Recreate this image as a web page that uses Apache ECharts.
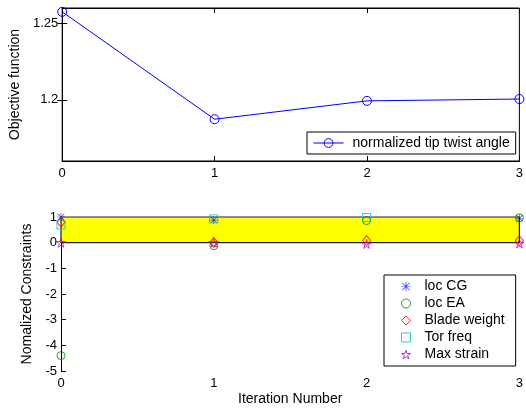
<!DOCTYPE html>
<html>
<head>
<meta charset="utf-8">
<script src="https://cdn.jsdelivr.net/npm/echarts@6/dist/echarts.min.js"></script>
<style>
  html, body { margin: 0; padding: 0; background: #fff; }
  #chart { width: 526px; height: 410px; }
</style>
</head>
<body>
<div id="chart"></div>
<script>
// Optimisation history: objective and normalized constraints per iteration
const iterations = [0, 1, 2, 3];
const objective = [1.2575, 1.1873, 1.1993, 1.2005];
const objTicks = [1.2, 1.25];

const locCG = [1.0, 0.88, null, 0.95];
const locEA = [-4.4, -0.12, 0.86, 0.97];
const bladeWeight = [0.8, 0.01, 0.08, 0.08];
const torFreq = [0.69, 0.93, 0.98, null];
const maxStrain = [0.0, 0.0, -0.05, -0.03];

// feasible band for the normalized constraints
const bandLower = 0;
const bandUpper = 1;

const FONT = '"Liberation Sans", Arial, sans-serif';

const pairs = (ys) => iterations.map((x, i) => [x, ys[i]]);

const ASTERISK = 'path://M9.2 0h1.6v20h-1.6z M0 9.2h20v1.6h-20z M2.36 1.3L18.7 17.64L17.64 18.7L1.3 2.36z M17.64 1.3L18.7 2.36L2.36 18.7L1.3 17.64z';
const PENTAGRAM = 'path://M10 0L12.245 6.91L19.51 6.91L13.633 11.18L15.88 18.09L10 13.82L4.12 18.09L6.367 11.18L0.49 6.91L7.755 6.91Z';

function hollow(color) {
  return { color: 'transparent', borderColor: color, borderWidth: 1 };
}

// constraint series: name, marker, size, style
const constraintSeries = [
  { name: 'loc CG', values: locCG, symbol: ASTERISK, size: 8, style: { color: '#0000ff', borderWidth: 0 } },
  { name: 'loc EA', values: locEA, symbol: 'circle', size: 8, style: hollow('#008000') },
  { name: 'Blade weight', values: bladeWeight, symbol: 'diamond', size: [8, 10], style: hollow('#ff0000') },
  { name: 'Tor freq', values: torFreq, symbol: 'rect', size: 8, style: hollow('#00bfbf') },
  { name: 'Max strain', values: maxStrain, symbol: PENTAGRAM, size: 9, style: hollow('#bf00bf') }
];

const tickStyle = { inside: true, length: 5, lineStyle: { color: '#000', width: 1 } };
const lineStyle = { lineStyle: { color: '#000', width: 1 } };
const labelStyle = { color: '#000', fontSize: 13, fontFamily: FONT };

const chart = echarts.init(document.getElementById('chart'), null, { renderer: 'canvas' });

chart.setOption({
  animation: false,
  backgroundColor: '#fff',
  grid: [
    { left: 61, top: 8, width: 461, height: 153, show: true, borderColor: '#000', borderWidth: 1, backgroundColor: 'transparent' },
    { left: 61, top: 217, width: 461, height: 154 }
  ],
  xAxis: [
    { gridIndex: 0, type: 'value', min: 0, max: 3, interval: 1, position: 'bottom',
      axisLine: lineStyle, axisTick: tickStyle, splitLine: { show: false },
      axisLabel: Object.assign({ margin: 6 }, labelStyle) },
    { gridIndex: 0, type: 'value', min: 0, max: 3, interval: 1, position: 'top',
      axisLine: lineStyle, axisTick: tickStyle, splitLine: { show: false },
      axisLabel: { show: false } },
    { gridIndex: 1, type: 'value', min: 0, max: 3, interval: 1, position: 'bottom',
      axisLine: lineStyle, axisTick: tickStyle, splitLine: { show: false },
      axisLabel: Object.assign({ margin: 6 }, labelStyle),
      name: 'Iteration Number', nameLocation: 'middle', nameGap: 21,
      nameTextStyle: { color: '#000', fontSize: 14, fontFamily: FONT } }
  ],
  yAxis: [
    { gridIndex: 0, type: 'value', min: 1.16, max: 1.26, position: 'left',
      axisLine: lineStyle, splitLine: { show: false },
      axisTick: Object.assign({ customValues: objTicks }, tickStyle),
      axisLabel: Object.assign({ customValues: objTicks, margin: 4 }, labelStyle),
      name: 'Objective function', nameLocation: 'middle', nameGap: 39,
      nameTextStyle: { color: '#000', fontSize: 14, fontFamily: FONT } },
    { gridIndex: 0, type: 'value', min: 1.16, max: 1.26, position: 'right',
      axisLine: lineStyle, splitLine: { show: false },
      axisTick: Object.assign({ customValues: objTicks }, tickStyle),
      axisLabel: { show: false } },
    { gridIndex: 1, type: 'value', min: -5, max: 1, interval: 1, position: 'left',
      axisLine: lineStyle, axisTick: tickStyle, splitLine: { show: false },
      axisLabel: Object.assign({ margin: 4 }, labelStyle),
      name: 'Nomalized Constraints', nameLocation: 'middle', nameGap: 27,
      nameTextStyle: { color: '#000', fontSize: 14, fontFamily: FONT } }
  ],
  legend: [
    { data: ['normalized tip twist angle'], left: 307, top: 132, orient: 'horizontal',
      backgroundColor: '#fff', borderColor: '#000', borderWidth: 1,
      padding: [4, 6, 4, 6], itemWidth: 30, itemHeight: 11, itemGap: 0,
      lineStyle: { color: '#0000ff', width: 1 },
      itemStyle: { color: 'transparent', borderColor: '#0000ff', borderWidth: 1 },
      textStyle: { color: '#000', fontSize: 14, fontFamily: FONT, padding: [0, 0, 0, 4] } },
    { data: constraintSeries.map(s => ({ name: s.name, itemStyle: Object.assign({}, s.style) })),
      left: 384, top: 275, orient: 'vertical',
      backgroundColor: '#fff', borderColor: '#000', borderWidth: 1,
      padding: [3, 11, 3, 17], itemWidth: 9, itemHeight: 9, itemGap: 0,
      textStyle: { color: '#000', fontSize: 14, fontFamily: FONT, lineHeight: 17, padding: [0, 0, 0, 9] } }
  ],
  series: [
    { name: 'normalized tip twist angle', type: 'line', xAxisIndex: 0, yAxisIndex: 0,
      data: pairs(objective), symbol: 'circle', symbolSize: 9,
      lineStyle: { color: '#0000ff', width: 1 },
      itemStyle: hollow('#0000ff'), z: 3 },
    { name: 'band', type: 'scatter', xAxisIndex: 2, yAxisIndex: 2, data: [], z: 1,
      markArea: { silent: true,
        itemStyle: { color: '#ffff00', borderColor: '#222', borderWidth: 1.2 },
        data: [[{ coord: [iterations[0], bandLower] }, { coord: [iterations[iterations.length - 1], bandUpper] }]] } }
  ].concat(constraintSeries.map(s => ({
    name: s.name, type: 'scatter', xAxisIndex: 2, yAxisIndex: 2,
    data: pairs(s.values), symbol: s.symbol, symbolSize: s.size,
    itemStyle: s.style, z: 4
  })))
});
</script>
</body>
</html>
